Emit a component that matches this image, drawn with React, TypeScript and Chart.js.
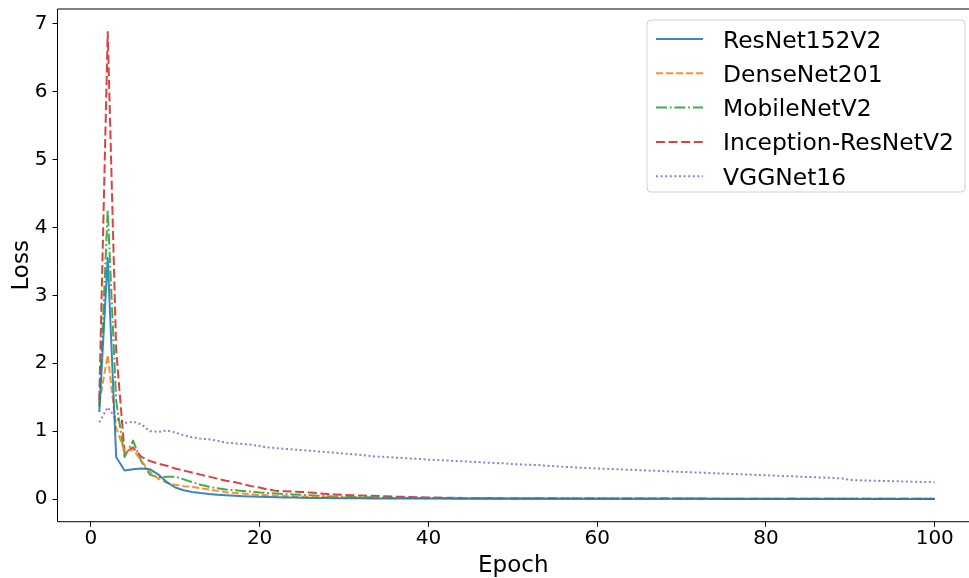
import React, { useEffect, useRef } from "react";
import { Chart, registerables } from "chart.js";

Chart.register(...registerables);

// ---- data ----
const epochs = Array.from({ length: 100 }, (_, i) => i + 1);
const xTickValues = [0, 20, 40, 60, 80, 100];
const yTickValues = [0, 1, 2, 3, 4, 5, 6, 7];
const seriesNames = ["ResNet152V2", "DenseNet201", "MobileNetV2", "Inception-ResNetV2", "VGGNet16"];

const resnet152v2 = [
  1.28, 3.55, 0.62, 0.42, 0.44, 0.45, 0.44, 0.36, 0.25, 0.17,
  0.13, 0.105, 0.088, 0.074, 0.063, 0.054, 0.047, 0.041, 0.036, 0.032,
  0.029, 0.026, 0.023, 0.021, 0.019, 0.017, 0.016, 0.014, 0.013, 0.012,
  0.011, 0.01, 0.0095, 0.009, 0.0085, 0.008, 0.0076, 0.0072, 0.0068, 0.0065,
  0.0062, 0.006, 0.0057, 0.0055, 0.0053, 0.0051, 0.0049, 0.0047, 0.0046, 0.0044,
  0.0043, 0.0041, 0.004, 0.0039, 0.0037, 0.0036, 0.0035, 0.0034, 0.0033, 0.0032,
  0.0031, 0.003, 0.0029, 0.0029, 0.0028, 0.0027, 0.0026, 0.0026, 0.0025, 0.0024,
  0.0024, 0.0023, 0.0023, 0.0022, 0.0021, 0.0021, 0.002, 0.002, 0.0019, 0.0019,
  0.0018, 0.0018, 0.0018, 0.0017, 0.0017, 0.0016, 0.0016, 0.0016, 0.0015, 0.0015,
  0.0015, 0.0014, 0.0014, 0.0014, 0.0013, 0.0013, 0.0013, 0.0012, 0.0012, 0.0012,
];

const densenet201 = [
  1.41, 2.12, 1.05, 0.7, 0.73, 0.56, 0.4, 0.3, 0.24, 0.21,
  0.19, 0.18, 0.16, 0.14, 0.12, 0.1, 0.09, 0.08, 0.07, 0.06,
  0.055, 0.05, 0.045, 0.04, 0.037, 0.034, 0.031, 0.028, 0.026, 0.024,
  0.022, 0.02, 0.019, 0.018, 0.017, 0.016, 0.015, 0.014, 0.013, 0.012,
  0.0115, 0.011, 0.0105, 0.01, 0.0096, 0.0092, 0.0088, 0.0084, 0.008, 0.0077,
  0.0074, 0.0071, 0.0068, 0.0066, 0.0063, 0.0061, 0.0059, 0.0057, 0.0055, 0.0053,
  0.0051, 0.0049, 0.0048, 0.0046, 0.0045, 0.0043, 0.0042, 0.0041, 0.0039, 0.0038,
  0.0037, 0.0036, 0.0035, 0.0034, 0.0033, 0.0032, 0.0031, 0.0031, 0.003, 0.0029,
  0.0028, 0.0028, 0.0027, 0.0026, 0.0026, 0.0025, 0.0025, 0.0024, 0.0024, 0.0023,
  0.0023, 0.0022, 0.0022, 0.0021, 0.0021, 0.002, 0.002, 0.002, 0.0019, 0.0019,
];

const mobilenetv2 = [
  1.36, 4.26, 1.45, 0.62, 0.86, 0.55, 0.36, 0.32, 0.33, 0.33,
  0.29, 0.25, 0.21, 0.18, 0.16, 0.14, 0.13, 0.12, 0.11, 0.095,
  0.088, 0.08, 0.074, 0.068, 0.062, 0.055, 0.048, 0.042, 0.037, 0.033,
  0.03, 0.027, 0.025, 0.023, 0.021, 0.019, 0.018, 0.016, 0.015, 0.014,
  0.0135, 0.013, 0.0125, 0.012, 0.0115, 0.011, 0.0105, 0.01, 0.0096, 0.0092,
  0.0088, 0.0085, 0.0082, 0.0079, 0.0076, 0.0073, 0.007, 0.0068, 0.0065, 0.0063,
  0.0061, 0.0059, 0.0057, 0.0055, 0.0053, 0.0052, 0.005, 0.0049, 0.0047, 0.0046,
  0.0044, 0.0043, 0.0042, 0.0041, 0.004, 0.0039, 0.0038, 0.0037, 0.0036, 0.0035,
  0.0034, 0.0033, 0.0033, 0.0032, 0.0031, 0.0031, 0.003, 0.0029, 0.0029, 0.0028,
  0.0028, 0.0027, 0.0027, 0.0026, 0.0026, 0.0025, 0.0025, 0.0024, 0.0024, 0.0024,
];

const inceptionResnetv2 = [
  1.46, 6.88, 2.2, 0.68, 0.76, 0.62, 0.56, 0.52, 0.49, 0.45,
  0.42, 0.39, 0.36, 0.33, 0.3, 0.27, 0.25, 0.22, 0.19, 0.17,
  0.14, 0.12, 0.115, 0.11, 0.105, 0.095, 0.085, 0.075, 0.068, 0.062,
  0.057, 0.052, 0.048, 0.044, 0.04, 0.036, 0.032, 0.029, 0.026, 0.023,
  0.021, 0.019, 0.018, 0.017, 0.016, 0.015, 0.014, 0.013, 0.0125, 0.012,
  0.0115, 0.011, 0.0105, 0.01, 0.0097, 0.0094, 0.0091, 0.0088, 0.0085, 0.0082,
  0.008, 0.0078, 0.0076, 0.0074, 0.0072, 0.007, 0.0068, 0.0066, 0.0064, 0.0063,
  0.0061, 0.006, 0.0058, 0.0057, 0.0056, 0.0054, 0.0053, 0.0052, 0.0051, 0.005,
  0.0049, 0.0048, 0.0047, 0.0046, 0.0045, 0.0044, 0.0044, 0.0043, 0.0042, 0.0041,
  0.0041, 0.004, 0.0039, 0.0039, 0.0038, 0.0037, 0.0037, 0.0036, 0.0036, 0.0035,
];

const vggnet16 = [
  1.13, 1.35, 1.18, 1.12, 1.14, 1.1, 1.0, 0.99, 1.01, 0.98,
  0.94, 0.91, 0.89, 0.88, 0.86, 0.83, 0.82, 0.81, 0.8, 0.78,
  0.76, 0.75, 0.74, 0.73, 0.72, 0.71, 0.7, 0.69, 0.68, 0.67,
  0.66, 0.65, 0.635, 0.625, 0.62, 0.61, 0.605, 0.595, 0.59, 0.58,
  0.575, 0.57, 0.56, 0.555, 0.55, 0.545, 0.535, 0.53, 0.525, 0.515,
  0.51, 0.505, 0.5, 0.49, 0.485, 0.475, 0.47, 0.46, 0.455, 0.45,
  0.445, 0.44, 0.435, 0.43, 0.425, 0.42, 0.415, 0.41, 0.405, 0.4,
  0.395, 0.39, 0.385, 0.38, 0.375, 0.37, 0.365, 0.36, 0.355, 0.35,
  0.345, 0.34, 0.335, 0.33, 0.325, 0.32, 0.315, 0.31, 0.305, 0.28,
  0.276, 0.272, 0.269, 0.266, 0.263, 0.26, 0.257, 0.254, 0.251, 0.248,
];

const seriesValues = [resnet152v2, densenet201, mobilenetv2, inceptionResnetv2, vggnet16];
const seriesColors = [
  "rgba(31,119,180,0.88)",
  "rgba(255,127,14,0.88)",
  "rgba(44,160,44,0.88)",
  "rgba(214,39,40,0.88)",
  "rgba(148,103,189,0.88)",
];
const seriesDash: number[][] = [[], [7, 3], [11, 2.8, 1.8, 2.8], [9, 3.6], [2, 2.6]];

const FONT = "'DejaVu Sans', 'Liberation Sans', sans-serif";

const framePlugin = {
  id: "frameAndLegend",
  afterDraw(chart: any) {
    const { ctx, chartArea } = chart;
    ctx.save();
    // spines: left, top, bottom (right spine lies beyond the visible figure)
    ctx.strokeStyle = "#000";
    ctx.lineWidth = 1;
    ctx.setLineDash([]);
    ctx.beginPath();
    ctx.moveTo(chartArea.right + 2, chartArea.top);
    ctx.lineTo(chartArea.left, chartArea.top);
    ctx.lineTo(chartArea.left, chartArea.bottom);
    ctx.lineTo(chartArea.right + 2, chartArea.bottom);
    ctx.stroke();

    // legend (upper right)
    const boxW = 318;
    const boxH = 172;
    const boxRight = chartArea.right - 4;
    const boxX = boxRight - boxW;
    const boxY = chartArea.top + 11;
    const r = 4;
    ctx.beginPath();
    ctx.moveTo(boxX + r, boxY);
    ctx.lineTo(boxX + boxW - r, boxY);
    ctx.quadraticCurveTo(boxX + boxW, boxY, boxX + boxW, boxY + r);
    ctx.lineTo(boxX + boxW, boxY + boxH - r);
    ctx.quadraticCurveTo(boxX + boxW, boxY + boxH, boxX + boxW - r, boxY + boxH);
    ctx.lineTo(boxX + r, boxY + boxH);
    ctx.quadraticCurveTo(boxX, boxY + boxH, boxX, boxY + boxH - r);
    ctx.lineTo(boxX, boxY + r);
    ctx.quadraticCurveTo(boxX, boxY, boxX + r, boxY);
    ctx.closePath();
    ctx.fillStyle = "rgba(255,255,255,0.8)";
    ctx.fill();
    ctx.strokeStyle = "#d0d0d0";
    ctx.lineWidth = 1;
    ctx.stroke();

    const fontSize = 23.4;
    ctx.font = `${fontSize}px ${FONT}`;
    ctx.textAlign = "left";
    ctx.textBaseline = "alphabetic";
    chart.data.datasets.forEach((ds: any, i: number) => {
      const rowY = boxY + 19 + i * 34.3;
      ctx.beginPath();
      ctx.setLineDash(ds.borderDash || []);
      ctx.strokeStyle = ds.borderColor;
      ctx.lineWidth = ds.borderWidth;
      ctx.moveTo(boxX + 9, rowY);
      ctx.lineTo(boxX + 56, rowY);
      ctx.stroke();
      ctx.setLineDash([]);
      ctx.fillStyle = "#000";
      ctx.fillText(ds.label, boxX + 76, rowY + (fontSize * 0.729) / 2);
    });
    ctx.restore();
  },
};

export default function App() {
  const canvasRef = useRef<HTMLCanvasElement | null>(null);

  useEffect(() => {
    document.body.style.margin = "0";
    const canvas = canvasRef.current;
    if (!canvas) return;
    const chart = new Chart(canvas, {
      type: "line",
      data: {
        datasets: seriesNames.map((name, i) => ({
          label: name,
          data: epochs.map((e, j) => ({ x: e, y: seriesValues[i][j] })),
          borderColor: seriesColors[i],
          backgroundColor: seriesColors[i],
          borderWidth: 2,
          borderDash: seriesDash[i],
          borderJoinStyle: "round",
          pointRadius: 0,
          fill: false,
          tension: 0,
        })),
      },
      options: {
        responsive: false,
        animation: false,
        devicePixelRatio: 1,
        layout: { padding: { top: 9, right: 0, left: 0, bottom: 0 } },
        plugins: {
          legend: { display: false },
          tooltip: { enabled: false },
        },
        scales: {
          x: {
            type: "linear",
            min: -3.95,
            max: 104.06,
            afterBuildTicks: (scale: any) => {
              scale.ticks = xTickValues.map((v) => ({ value: v }));
            },
            afterFit: (scale: any) => {
              scale.height = 56.3;
              scale.paddingLeft = 0;
              scale.paddingRight = 0;
              scale.paddingTop = 0;
              scale.paddingBottom = 0;
            },
            grid: { display: true, drawOnChartArea: false, drawTicks: true, tickLength: 5, color: "#000", lineWidth: 1 },
            border: { display: false },
            ticks: { font: { family: FONT, size: 20 }, color: "#000", maxRotation: 0, autoSkip: false, padding: 0 },
            title: { display: true, text: "Epoch", font: { family: FONT, size: 23, lineHeight: 1.02 }, color: "#000", padding: { top: 0, bottom: 0 } },
          },
          y: {
            type: "linear",
            min: -0.334,
            max: 7.22,
            afterBuildTicks: (scale: any) => {
              scale.ticks = yTickValues.map((v) => ({ value: v }));
            },
            afterFit: (scale: any) => {
              scale.width = 57.5;
              scale.paddingLeft = 0;
              scale.paddingRight = 0;
              scale.paddingTop = 0;
              scale.paddingBottom = 0;
            },
            grid: { display: true, drawOnChartArea: false, drawTicks: true, tickLength: 5, color: "#000", lineWidth: 1 },
            border: { display: false },
            ticks: { font: { family: FONT, size: 20 }, color: "#000", autoSkip: false, padding: 5 },
            title: { display: true, text: "Loss", font: { family: FONT, size: 23 }, color: "#000", padding: { top: 8.5, bottom: 0 } },
          },
        },
      },
      plugins: [framePlugin],
    } as any);
    return () => chart.destroy();
  }, []);

  return (
    <div style={{ position: "fixed", left: 0, top: 0, width: 969, height: 578, background: "#fff" }}>
      <canvas ref={canvasRef} width={969} height={578} style={{ display: "block", width: 969, height: 578 }} />
    </div>
  );
}
